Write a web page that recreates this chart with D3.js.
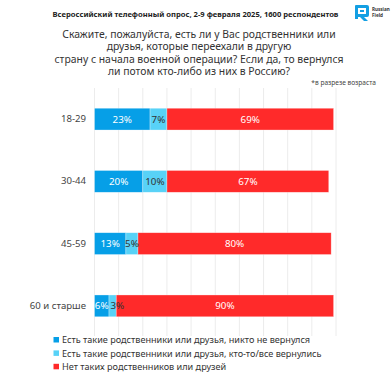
<!DOCTYPE html>
<html>
<head>
<meta charset="utf-8">
<script src="https://cdn.jsdelivr.net/npm/d3@7"></script>
<style>
  body { margin: 0; background: #fff; }
  svg { display: block; font-family: "Noto Sans", "Open Sans", sans-serif; }
</style>
</head>
<body>
<svg width="392" height="392"></svg>
<script>
// data
var categories = ["18-29", "30-44", "45-59", "60 и старше"];
var seriesNames = [
  "Есть такие родственники или друзья, никто не вернулся",
  "Есть такие родственники или друзья, кто-то/все вернулись",
  "Нет таких родственников или друзей"
];
var noneReturned = [23, 20, 13, 6];
var someReturned = [7, 10, 5, 3];
var noRelatives = [69, 67, 80, 90];
var xTicks = [0, 10, 20, 30, 40, 50, 60, 70, 80, 90, 100];

var colors = ["#069fe7", "#58d2f7", "#ff2a2a"];
var labelColors = ["#ffffff", "#333333", "#ffffff"];

var svg = d3.select("svg");

//scales
var x = d3.scaleLinear().domain([0, 100]).range([94.5, 336]);
var y = d3.scaleBand().domain(categories).range([88, 337])
    .paddingInner(0.65).paddingOuter(0.325);

//titles
svg.append("text")
    .attr("x", 195.5).attr("y", 17)
    .attr("text-anchor", "middle")
    .attr("font-size", 7.6).attr("font-weight", "bold")
    .attr("fill", "#222")
    .text("Всероссийский телефонный опрос, 2-9 февраля 2025, 1600 респондентов");

var qLines = [
  "Скажите, пожалуйста, есть ли у Вас родственники или",
  "друзья, которые переехали в другую",
  "страну с начала военной операции? Если да, то вернулся",
  "ли потом кто-либо из них в Россию?"
];
svg.append("g").selectAll("text")
    .data(qLines)
    .enter().append("text")
    .attr("x", 199)
    .attr("y", function (d, i) { return 37.5 + i * 12.6; })
    .attr("text-anchor", "middle")
    .attr("font-size", 10.4)
    .attr("fill", "#333")
    .text(function (d) { return d; });

svg.append("text")
    .attr("x", 376).attr("y", 84.5)
    .attr("text-anchor", "end")
    .attr("font-size", 6.6)
    .attr("fill", "#444")
    .text("*в разрезе возраста");

//logo
var logo = svg.append("g").attr("transform", "translate(355,5)");
logo.append("path")
    .attr("d", "M1,0 H12 Q14,0 14,2 V10 Q14,12 12,12 H9 L13,16 H9 L5,12 H3 V14 H0 V1 Q0,0 1,0 Z M3,3 V9 H11 V3 Z")
    .attr("fill", "#139fe3");
logo.append("rect").attr("x", 5).attr("y", 5).attr("width", 4).attr("height", 2).attr("fill", "#139fe3");
logo.append("text").attr("x", 17).attr("y", 6).attr("font-size", 4.6).attr("font-weight", "bold").attr("fill", "#333").text("Russian");
logo.append("text").attr("x", 17).attr("y", 12).attr("font-size", 4.6).attr("font-weight", "bold").attr("fill", "#333").text("Field");

//grid
svg.append("g").selectAll("line")
    .data(xTicks)
    .enter().append("line")
    .attr("x1", function (d) { return x(d); })
    .attr("x2", function (d) { return x(d); })
    .attr("y1", 88).attr("y2", 336)
    .attr("stroke", "#ececec")
    .attr("stroke-width", 1);

//stack
var rows = categories.map(function (c, i) {
  return { cat: c, s0: noneReturned[i], s1: someReturned[i], s2: noRelatives[i] };
});
var stack = d3.stack().keys(["s0", "s1", "s2"])(rows);

// flatten so that all bars go first and all labels on top
var segs = [];
stack.forEach(function (s, k) {
  s.forEach(function (p) { segs.push({ p: p, k: k }); });
});

svg.append("g").selectAll("rect")
    .data(segs)
    .enter().append("rect")
    .attr("x", function (d) { return x(d.p[0]); })
    .attr("y", function (d) { return y(d.p.data.cat); })
    .attr("width", function (d) { return x(d.p[1]) - x(d.p[0]); })
    .attr("height", y.bandwidth())
    .attr("fill", function (d) { return colors[d.k]; })
    .attr("stroke", "#fff")
    .attr("stroke-opacity", 0.5)
    .attr("stroke-width", 0.6);

// narrow segments: label starts just inside the bar instead of centering
function narrow(d) { return x(d.p[1]) - x(d.p[0]) < 10; }
svg.append("g").selectAll("text")
    .data(segs)
    .enter().append("text")
    .attr("x", function (d) { return narrow(d) ? x(d.p[0]) + 1.5 : (x(d.p[0]) + x(d.p[1])) / 2; })
    .attr("y", function (d) { return y(d.p.data.cat) + y.bandwidth() / 2 + 3.5; })
    .attr("text-anchor", function (d) { return narrow(d) ? "start" : "middle"; })
    .attr("font-size", 9.8)
    .attr("fill", function (d) { return labelColors[d.k]; })
    .text(function (d) { return (d.p[1] - d.p[0]) + "%"; });

//category axis
var yAxis = svg.append("g")
    .attr("transform", "translate(86,0)")
    .call(d3.axisLeft(y).tickSize(0).tickPadding(0));
yAxis.select(".domain").remove();
yAxis.selectAll("text")
    .attr("font-size", 9.6)
    .attr("font-family", "Noto Sans, Open Sans, sans-serif")
    .attr("fill", "#444");

//legend
var legend = svg.append("g").selectAll("g")
    .data(seriesNames)
    .enter().append("g")
    .attr("transform", function (d, i) { return "translate(53.5," + (340 + i * 13.4) + ")"; });
legend.append("rect")
    .attr("x", 0).attr("y", -3)
    .attr("width", 5.5).attr("height", 5.5)
    .attr("fill", function (d, i) { return colors[i]; });
legend.append("text")
    .attr("x", 8.5).attr("y", 3.3)
    .attr("font-size", 9.1)
    .attr("fill", "#333")
    .text(function (d) { return d; });
</script>
</body>
</html>
